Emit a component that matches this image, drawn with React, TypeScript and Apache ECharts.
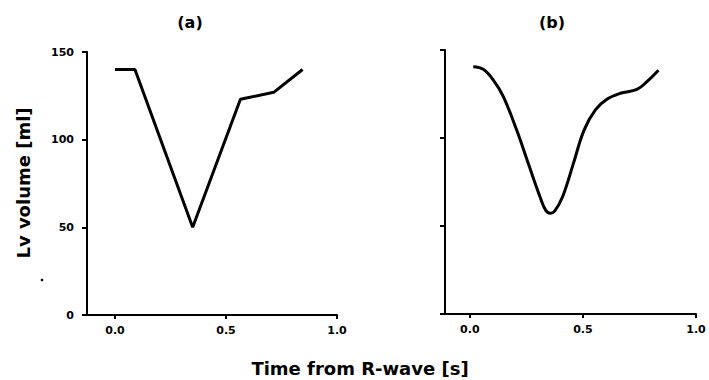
import React, { useEffect, useRef } from "react";
import * as echarts from "echarts";

// Panel (a): piecewise-linear volume curve
const timeA = [0.0, 0.09, 0.35, 0.565, 0.715, 0.845];
const volA = [140, 140, 50, 123, 127, 140];

// Panel (b): smooth volume curve
const timeB = [0.015, 0.059, 0.103, 0.148, 0.207, 0.258, 0.31, 0.335, 0.355, 0.375, 0.41, 0.458, 0.505, 0.555, 0.606, 0.665, 0.739, 0.783, 0.834];
const volB = [140.5, 139, 133, 123.5, 104.5, 85.6, 66.6, 59, 57.3, 58.5, 66.6, 85.6, 104.5, 116, 122, 125.4, 127.6, 132, 138.5];

const xTicks = [0, 0.5, 1.0];
const yTicks = [0, 50, 100, 150];
const panelTitles = ["(a)", "(b)"];
const xTitle = "Time from R-wave [s]";
const yTitle = "Lv volume [ml]";

const FONT = "DejaVu Sans";

export default function App() {
  const ref = useRef<HTMLDivElement>(null);
  useEffect(() => {
    if (!ref.current) return;
    const chart = echarts.init(ref.current, null, { renderer: "svg" });
    const axisLine = { show: true, lineStyle: { color: "#000", width: 2 } };
    const xAxisCommon = (min: number, gridIndex: number) => ({
      type: "value",
      gridIndex,
      min,
      max: 1.0,
      axisLine: { ...axisLine, onZero: false },
      axisTick: { show: true, length: 4, inside: false, lineStyle: { color: "#000", width: 2 }, customValues: xTicks },
      axisLabel: {
        show: true,
        customValues: xTicks,
        formatter: (v: number) => v.toFixed(1),
        color: "#000",
        fontFamily: FONT,
        fontWeight: "bold",
        fontSize: 11,
        margin: 10,
      },
      splitLine: { show: false },
    });
    const yAxisCommon = (gridIndex: number, showLabel: boolean) => ({
      type: "value",
      gridIndex,
      min: 0,
      max: 150,
      interval: 50,
      axisLine: { ...axisLine, onZero: false },
      axisTick: { show: true, length: 5, lineStyle: { color: "#000", width: 2 } },
      axisLabel: {
        show: showLabel,
        color: "#000",
        fontFamily: FONT,
        fontWeight: "bold",
        fontSize: 11,
        margin: 13,
        customValues: yTicks,
      },
      splitLine: { show: false },
    });
    chart.setOption({
      animation: false,
      backgroundColor: "#fff",
      grid: [
        { left: 87, top: 52, width: 250, height: 263 },
        { left: 445, top: 50, width: 251, height: 264 },
      ],
      xAxis: [xAxisCommon(-0.126, 0), xAxisCommon(-0.11, 1)],
      yAxis: [yAxisCommon(0, true), yAxisCommon(1, false)],
      series: [
        {
          type: "line",
          xAxisIndex: 0,
          yAxisIndex: 0,
          data: timeA.map((t, i) => [t, volA[i]]),
          symbol: "none",
          lineStyle: { color: "#000", width: 3 },
        },
        {
          type: "line",
          xAxisIndex: 1,
          yAxisIndex: 1,
          data: timeB.map((t, i) => [t, volB[i]]),
          symbol: "none",
          smooth: 0.4,
          lineStyle: { color: "#000", width: 3 },
        },
      ],
      graphic: [
        {
          type: "text",
          x: 190,
          y: 22,
          style: { text: panelTitles[0], font: `bold 16px ${FONT}`, fill: "#000", textAlign: "center", textVerticalAlign: "middle" },
        },
        {
          type: "text",
          x: 552,
          y: 22,
          style: { text: panelTitles[1], font: `bold 16px ${FONT}`, fill: "#000", textAlign: "center", textVerticalAlign: "middle" },
        },
        {
          type: "text",
          x: 360,
          y: 368,
          style: { text: xTitle, font: `bold 18px ${FONT}`, fill: "#000", textAlign: "center", textVerticalAlign: "middle" },
        },
        {
          type: "text",
          x: 23,
          y: 183,
          rotation: Math.PI / 2,
          style: { text: yTitle, font: `bold 18px ${FONT}`, fill: "#000", textAlign: "center", textVerticalAlign: "middle" },
        },
        {
          type: "circle",
          shape: { cx: 42, cy: 280, r: 1.3 },
          style: { fill: "#000" },
        },
      ],
    });
    return () => chart.dispose();
  }, []);
  return <div ref={ref} style={{ position: "absolute", left: 0, top: 0, width: 709, height: 380 }} />;
}
